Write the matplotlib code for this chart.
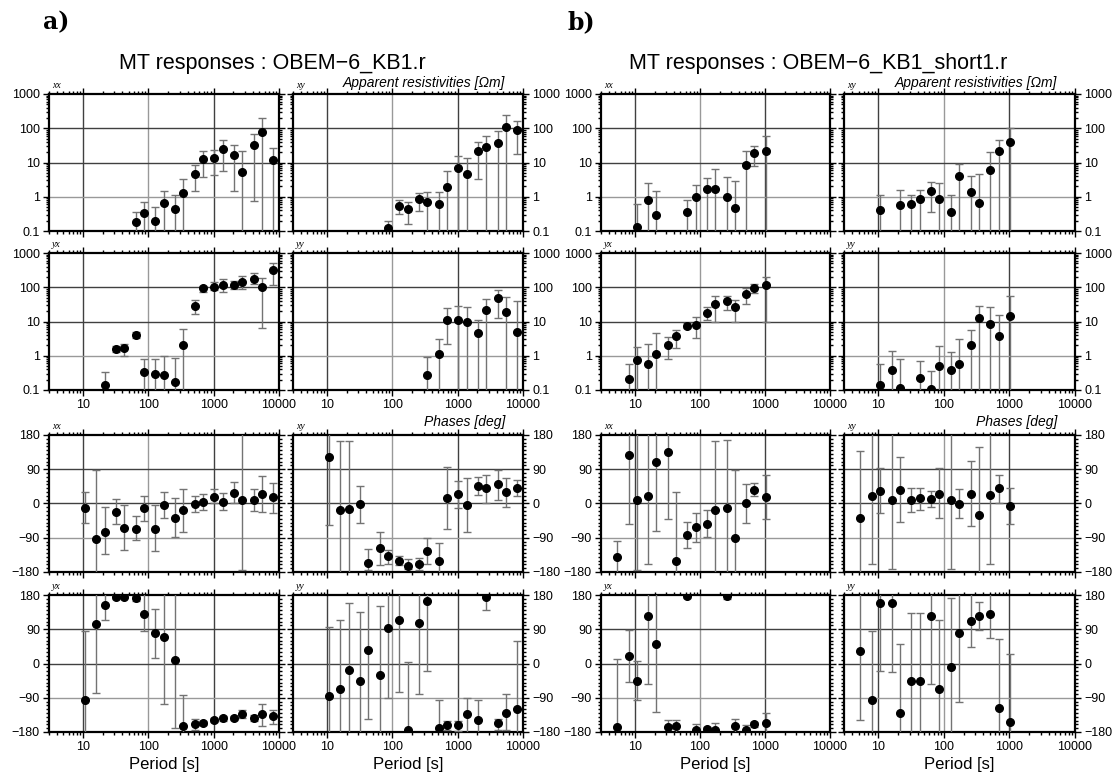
import numpy as np
import matplotlib.pyplot as plt
from matplotlib.ticker import LogLocator, MultipleLocator, FixedLocator, FixedFormatter, NullFormatter

plt.rcParams['font.family'] = ['Liberation Sans', 'DejaVu Sans']

# ---------------- OBEM-6_KB1.r ----------------
# apparent resistivity [ohm m]
a_rxx_T = [64, 85.33, 128, 170.67, 256, 341.33, 512, 682.67, 1024, 1365.33, 2048, 2730.67, 4096, 5461.33, 8192]
a_rxx = [0.18, 0.33, 0.19, 0.67, 0.44, 1.25, 4.7, 12.8, 13.7, 25, 16.8, 5.3, 32, 80, 11.7]
a_rxx_lo = [0.01, 0.01, 0.01, 0.01, 0.01, 0.01, 1.44, 3.8, 4.3, 5.8, 1.44, 0.01, 0.73, 0.01, 0.01]
a_rxx_hi = [0.36, 0.68, 0.51, 1.44, 1.12, 3.2, 8.4, 21.5, 23, 45, 32, 22, 66, 200, 27]

a_rxy_T = [85.33, 128, 170.67, 256, 341.33, 512, 682.67, 1024, 1365.33, 2048, 2730.67, 4096, 5461.33, 8192]
a_rxy = [0.12, 0.55, 0.44, 0.87, 0.68, 0.6, 1.9, 6.8, 4.5, 22, 27.5, 37, 108, 91]
a_rxy_lo = [0.01, 0.32, 0.16, 0.39, 0.01, 0.01, 0.01, 0.01, 0.01, 3.3, 0.01, 0.01, 0.01, 17.5]
a_rxy_hi = [0.2, 0.81, 0.72, 1.26, 1.4, 1.4, 5.7, 15, 13.4, 39, 58, 82, 250, 166]

a_ryx_T = [21.33, 32, 42.67, 64, 85.33, 128, 170.67, 256, 341.33, 512, 682.67, 1024, 1365.33, 2048, 2730.67, 4096, 5461.33, 8192]
a_ryx = [0.144, 1.56, 1.63, 4.1, 0.34, 0.30, 0.27, 0.17, 2.05, 29, 94, 105, 117, 117, 147, 180, 100, 310]
a_ryx_lo = [0.01, 1.26, 1.0, 3.2, 0.01, 0.01, 0.01, 0.01, 0.01, 17, 73, 84, 75, 90, 90, 126, 6.3, 118]
a_ryx_hi = [0.33, 1.9, 2.2, 5.0, 0.83, 0.83, 0.97, 0.85, 6.0, 43, 110, 147, 173, 150, 220, 260, 186, 510]

a_ryy_T = [341.33, 512, 682.67, 1024, 1365.33, 2048, 2730.67, 4096, 5461.33, 8192]
a_ryy = [0.27, 1.15, 10.7, 11.4, 9.6, 4.7, 21, 47, 19.5, 5.1]
a_ryy_lo = [0.01, 0.01, 2.2, 0.01, 0.01, 0.01, 0.01, 13, 0.01, 0.01]
a_ryy_hi = [0.9, 3.0, 25, 28, 27, 11.4, 44, 82, 51, 40]

# phases [deg]
a_p_T = [10.67, 16, 21.33, 32, 42.67, 64, 85.33, 128, 170.67, 256, 341.33, 512, 682.67, 1024, 1365.33, 2048, 2730.67, 4096, 5461.33, 8192]
a_pxx = [-11, -92, -75, -22, -64, -66, -13, -66, -5, -38, -18, -2, 4, 18, 5, 28, 9, 9, 25, 16]
a_pxx_lo = [-52, -200, -134, -55, -123, -96, -45, -125, -39, -87, -74, -22, -16, 0, -17, 1, -175, -20, -22, -24]
a_pxx_hi = [31, 89, -9, 12, -3, -34, 19, -4, 29, 14, 38, 19, 26, 39, 27, 56, 200, 39, 73, 55]

a_pxy = [121, -17, -14, -2, -156, -118, -137, -150, -163, -159, -125, -151, 14, 25, -3, 47, 41, 50, 30, 40]
a_pxy_lo = [-57, -200, -200, -50, -174, -162, -159, -161, -172, -174, -159, -200, -68, -13, -74, 23, 2, 10, -10, 19]
a_pxy_hi = [200, 163, 164, 45, -119, -75, -121, -138, -147, -143, -90, -103, 97, 60, 67, 70, 74, 89, 67, 63]

a_pyx = [-97, 104, 155, 175, 176, 172, 131, 79, 70, 8, -163, -158, -156, -149, -143, -143, -134, -142, -134, -139]
a_pyx_lo = [-200, -77, 115, 170, 171, 165, 85, 15, -107, -170, -200, -176, -161, -155, -150, -148, -144, -150, -163, -158]
a_pyx_hi = [85, 200, 200, 180, 180, 178, 200, 144, 200, 200, -84, -147, -152, -143, -137, -138, -122, -135, -107, -121]

a_pyy = [-86, -66, -18, -45, 36, -29, 92, 113, -176, 107, 163, -170, -162, -162, -132, -149, 175, -156, -129, -119]
a_pyy_lo = [-200, -200, -200, -200, -145, -200, -90, -75, -200, -80, -20, -200, -176, -178, -200, -200, 140, -176, -175, -200]
a_pyy_hi = [95, 115, 160, 135, 200, 150, 200, 200, 5, 200, 200, -95, -150, -150, -90, -95, 200, -145, -80, 60]

# ---------------- OBEM-6_KB1_short1.r ----------------
b_rxx_T = [10.67, 16, 21.33, 64, 85.33, 128, 170.67, 256, 341.33, 512, 682.67, 1024]
b_rxx = [0.13, 0.81, 0.3, 0.37, 1.0, 1.66, 1.66, 1.0, 0.47, 8.3, 19, 22]
b_rxx_lo = [0.01, 0.01, 0.01, 0.01, 0.01, 0.01, 0.01, 0.01, 0.01, 0.01, 8.0, 0.01]
b_rxx_hi = [0.6, 2.5, 1.5, 0.81, 2.2, 3.5, 6.5, 3.7, 2.9, 21, 29.5, 60]

b_rxy_T = [10.67, 21.33, 32, 42.67, 64, 85.33, 128, 170.67, 256, 341.33, 512, 682.67, 1024]
b_rxy = [0.41, 0.56, 0.6, 0.84, 1.48, 0.87, 0.37, 4.0, 1.38, 0.67, 6.0, 21, 40]
b_rxy_lo = [0.01, 0.01, 0.01, 0.01, 0.35, 0.01, 0.01, 0.01, 0.01, 0.01, 0.01, 0.01, 0.01]
b_rxy_hi = [1.13, 1.6, 1.13, 1.6, 2.7, 2.5, 1.13, 9.3, 4.1, 4.6, 20.5, 45, 100]

b_ryx_T = [8, 10.67, 16, 21.33, 32, 42.67, 64, 85.33, 128, 170.67, 256, 341.33, 512, 682.67, 1024]
b_ryx = [0.21, 0.73, 0.56, 1.15, 2.1, 3.7, 7.6, 8.0, 17.5, 32.6, 40, 26, 62, 94, 117]
b_ryx_lo = [0.01, 0.01, 0.01, 0.01, 0.81, 1.7, 6.4, 3.3, 11, 10, 22, 10, 33, 66, 10]
b_ryx_hi = [0.59, 1.8, 2.2, 4.7, 3.5, 5.7, 9.1, 13.4, 27, 54, 57, 42, 98, 126, 205]

b_ryy_T = [10.67, 16, 21.33, 42.67, 64, 85.33, 128, 170.67, 256, 341.33, 512, 682.67, 1024]
b_ryy = [0.14, 0.39, 0.115, 0.23, 0.105, 0.5, 0.39, 0.57, 2.0, 12.5, 8.5, 3.9, 14.3]
b_ryy_lo = [0.01] * 13
b_ryy_hi = [0.59, 1.37, 0.78, 0.69, 0.36, 1.9, 1.3, 3.0, 5.7, 29, 27, 16, 54]

b_p_T = [5.33, 8, 10.67, 16, 21.33, 32, 42.67, 64, 85.33, 128, 170.67, 256, 341.33, 512, 682.67, 1024]
b_pxx = [-141, 127, 8, 19, 110, 136, -150, -83, -62, -53, -16, -11, -90, 0, 35, 18]
b_pxx_lo = [-200, -53, -175, -160, -71, -42, -200, -117, -101, -89, -200, -200, -200, -52, 19, -42]
b_pxx_hi = [-99, 200, 200, 200, 200, 200, 30, -48, -25, -18, 164, 168, 89, 50, 54, 76]

b_pxy = [-39, 19, 34, 8, 36, 10, 14, 12, 26, 9, -1, 24, -31, 23, 40, -7]
b_pxy_lo = [-200, -160, -26, -172, -48, -23, -17, -10, -39, -172, -39, -60, -200, -160, 2, -55]
b_pxy_hi = [139, 200, 92, 200, 122, 42, 42, 34, 92, 200, 39, 111, 149, 200, 76, 41]

b_pyx = [-168, 20, -46, 124, 52, -166, -163, 177, -174, -173, -175, 177, -165, -175, -159, -157]
b_pyx_lo = [-200, -48, -97, -55, -127, -200, -200, 172, -200, -200, -200, 170, -200, -200, -166, -200]
b_pyx_hi = [13, 88, 6, 200, 200, -149, -149, 200, -160, -167, -156, 200, -147, -162, -153, -131]

b_pyy = [32, -96, 159, 159, -131, -45, -45, 125, -66, -9, 79, 112, 125, 131, -117, -155]
b_pyy_lo = [-149, -200, -20, -22, -200, -200, -200, -54, -200, -200, -101, 44, 89, 66, -200, -200]
b_pyy_hi = [200, 85, 200, 200, 50, 134, 134, 200, 114, 171, 200, 200, 162, 200, 64, 24]

rho_ticks = [0.1, 1, 10, 100, 1000]
rho_labels = ['0.1', '1', '10', '100', '1000']
phase_ticks = [-180, -90, 0, 90, 180]
phase_labels = ['\u2212180', '\u221290', '0', '90', '180']
period_ticks = [10, 100, 1000, 10000]
period_labels = ['10', '100', '1000', '10000']

W, H = 1118, 780
fig = plt.figure(figsize=(W / 100, H / 100), dpi=100)

# panel frames in pixels: columns (left, right) and rows (top, bottom)
cols = {'a': [(49, 279), (293, 523)], 'b': [(601, 830), (844, 1075)]}
rows = [(94, 231), (253, 390), (435, 572), (595, 732)]


def add_px_axes(xr, yr):
    x0, x1 = xr
    y0, y1 = yr
    return fig.add_axes([x0 / W, 1 - y1 / H, (x1 - x0) / W, (y1 - y0) / H])


def style_axes(ax, kind, right_side, xlabels):
    ax.set_xscale('log')
    ax.set_xlim(3, 10000)
    if kind == 'rho':
        ax.set_yscale('log')
        ax.set_ylim(0.1, 1000)
        ax.yaxis.set_major_locator(FixedLocator(rho_ticks))
        ax.yaxis.set_major_formatter(FixedFormatter(rho_labels))
        ax.yaxis.set_minor_locator(LogLocator(base=10, subs=np.arange(2, 10)))
        ax.yaxis.set_minor_formatter(NullFormatter())
        hlines = [(100, '0.25'), (10, '0.25'), (1, '0.6')]
    else:
        ax.set_ylim(-180, 180)
        ax.yaxis.set_major_locator(FixedLocator(phase_ticks))
        ax.yaxis.set_major_formatter(FixedFormatter(phase_labels))
        ax.yaxis.set_minor_locator(MultipleLocator(10))
        hlines = [(90, '0.25'), (0, '0.25'), (-90, '0.6')]
    ax.xaxis.set_major_locator(FixedLocator(period_ticks))
    ax.xaxis.set_major_formatter(FixedFormatter(period_labels))
    ax.xaxis.set_minor_locator(LogLocator(base=10, subs=np.arange(2, 10)))
    ax.xaxis.set_minor_formatter(NullFormatter())

    for gx, c in [(10, '0.25'), (100, '0.6'), (1000, '0.25')]:
        ax.axvline(gx, color=c, lw=1.0, zorder=0.5)
    for gy, c in hlines:
        ax.axhline(gy, color=c, lw=1.0, zorder=0.5)

    ax.tick_params(which='both', direction='out', top=True, bottom=True,
                   left=True, right=True, width=1.0, color='k')
    ax.tick_params(which='major', length=4, pad=2.5, labelsize=9)
    ax.tick_params(which='minor', length=2)
    ax.tick_params(labelleft=not right_side, labelright=right_side,
                   labelbottom=xlabels, labeltop=False)
    for sp in ax.spines.values():
        sp.set_linewidth(1.6)


def draw(ax, T, v, lo, hi):
    v = np.asarray(v, float)
    lo = np.asarray(lo, float)
    hi = np.asarray(hi, float)
    ax.errorbar(T, v, yerr=[v - lo, hi - v], fmt='o', ms=5.5, mfc='k', mec='k',
                ecolor='0.45', elinewidth=1.0, capsize=2.6, capthick=1.0, zorder=3)


panels = {
    'a': [
        [('xx', 'rho', a_rxx_T, a_rxx, a_rxx_lo, a_rxx_hi), ('xy', 'rho', a_rxy_T, a_rxy, a_rxy_lo, a_rxy_hi)],
        [('yx', 'rho', a_ryx_T, a_ryx, a_ryx_lo, a_ryx_hi), ('yy', 'rho', a_ryy_T, a_ryy, a_ryy_lo, a_ryy_hi)],
        [('xx', 'phase', a_p_T, a_pxx, a_pxx_lo, a_pxx_hi), ('xy', 'phase', a_p_T, a_pxy, a_pxy_lo, a_pxy_hi)],
        [('yx', 'phase', a_p_T, a_pyx, a_pyx_lo, a_pyx_hi), ('yy', 'phase', a_p_T, a_pyy, a_pyy_lo, a_pyy_hi)],
    ],
    'b': [
        [('xx', 'rho', b_rxx_T, b_rxx, b_rxx_lo, b_rxx_hi), ('xy', 'rho', b_rxy_T, b_rxy, b_rxy_lo, b_rxy_hi)],
        [('yx', 'rho', b_ryx_T, b_ryx, b_ryx_lo, b_ryx_hi), ('yy', 'rho', b_ryy_T, b_ryy, b_ryy_lo, b_ryy_hi)],
        [('xx', 'phase', b_p_T, b_pxx, b_pxx_lo, b_pxx_hi), ('xy', 'phase', b_p_T, b_pxy, b_pxy_lo, b_pxy_hi)],
        [('yx', 'phase', b_p_T, b_pyx, b_pyx_lo, b_pyx_hi), ('yy', 'phase', b_p_T, b_pyy, b_pyy_lo, b_pyy_hi)],
    ],
}

for block in ['a', 'b']:
    for r, row in enumerate(panels[block]):
        for c, (comp, kind, T, v, lo, hi) in enumerate(row):
            ax = add_px_axes(cols[block][c], rows[r])
            style_axes(ax, kind, right_side=(c == 1), xlabels=(r in (1, 3)))
            draw(ax, T, v, lo, hi)
            ax.text(0.012, 1.03, comp, transform=ax.transAxes, fontsize=7,
                    family='Liberation Serif', style='italic', va='bottom', ha='left')

# block headers
fig.text(43 / W, 1 - 22 / H, 'a)', fontsize=17, fontweight='bold',
         family='DejaVu Serif', va='center', ha='left')
fig.text(568 / W, 1 - 22 / H, 'b)', fontsize=17, fontweight='bold',
         family='DejaVu Serif', va='center', ha='left')
fig.text(272 / W, 1 - 64 / H, 'MT responses : OBEM\u22126_KB1.r', fontsize=15.5,
         ha='center', va='center')
fig.text(818 / W, 1 - 64 / H, 'MT responses : OBEM\u22126_KB1_short1.r', fontsize=15.5,
         ha='center', va='center')

for xr in (505, 1057):
    fig.text(xr / W, 1 - 83 / H, 'Apparent resistivities [\u03a9m]', fontsize=10,
             style='italic', ha='right', va='center')
    fig.text(xr / W, 1 - 422 / H, 'Phases [deg]', fontsize=10,
             style='italic', ha='right', va='center')

for block in ['a', 'b']:
    for x0, x1 in cols[block]:
        fig.text((x0 + x1) / 2 / W, 1 - 765 / H, 'Period [s]', fontsize=12,
                 ha='center', va='center')

fig.savefig('out.png', dpi=100)
